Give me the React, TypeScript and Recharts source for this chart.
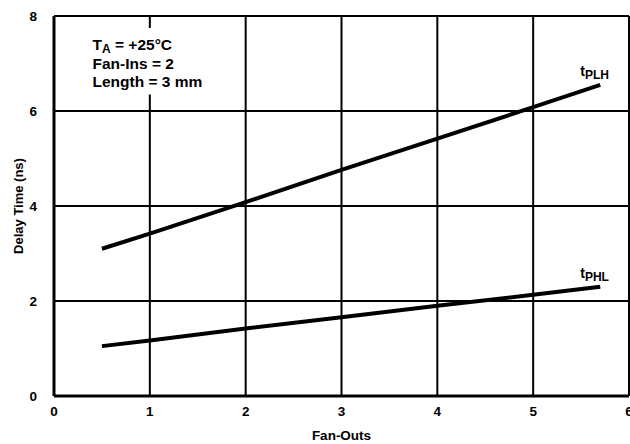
import {
  CartesianGrid,
  Label,
  Line,
  LineChart,
  ReferenceArea,
  XAxis,
  YAxis,
} from "recharts";

const fanOuts = [0.5, 1, 2, 3, 4, 5, 5.7];
const tPLH = [3.1, 3.42, 4.08, 4.76, 5.42, 6.08, 6.55];
const tPHL = [1.05, 1.17, 1.42, 1.66, 1.9, 2.13, 2.3];
const xTicks = [0, 1, 2, 3, 4, 5, 6];
const yTicks = [0, 2, 4, 6, 8];

const data = fanOuts.map((x, i) => ({ x, plh: tPLH[i], phl: tPHL[i] }));

const FONT = "'Liberation Sans', Arial, sans-serif";

// end-of-line label, e.g. t with subscript PLH
function endLabel(sub: string) {
  return (props: any) => {
    const { x, y, index } = props;
    if (index !== fanOuts.length - 1) return null;
    return (
      <text
        x={x - 20}
        y={y - 9}
        fontFamily={FONT}
        fontWeight="bold"
        fontSize={14}
        fill="#000"
      >
        t
        <tspan fontSize={12} dy={3}>
          {sub}
        </tspan>
      </text>
    );
  };
}

function Conditions(props: any) {
  const { x, y } = props.viewBox;
  const style = { fontFamily: FONT, fontWeight: "bold" as const, fontSize: 15.5, fill: "#000" };
  return (
    <g>
      <text x={x + 5} y={y + 22} {...style}>
        T
        <tspan fontSize={12} dy={3}>A</tspan>
        <tspan dy={-3}> = +25°C</tspan>
      </text>
      <text x={x + 5} y={y + 41} {...style}>
        Fan-Ins = 2
      </text>
      <text x={x + 5} y={y + 59} {...style}>
        Length = 3 mm
      </text>
    </g>
  );
}

export default function App() {
  const tick = { fontFamily: FONT, fontWeight: "bold", fontSize: 13.5, fill: "#000" };
  return (
    <div
      style={{
        position: "absolute",
        left: 0,
        top: 0,
        width: 630,
        height: 444,
        overflow: "hidden",
        background: "#fff",
      }}
    >
      <LineChart
        width={660}
        height={444}
        data={data}
        margin={{ top: 16, right: 31, bottom: 0, left: 0 }}
      >
        <CartesianGrid stroke="#000" strokeWidth={2} horizontalValues={yTicks} verticalValues={xTicks} />
        <ReferenceArea
          x1={0.35}
          x2={1.75}
          y1={6.35}
          y2={7.75}
          fill="#fff"
          fillOpacity={1}
          stroke="none"
          ifOverflow="visible"
        >
          <Label content={Conditions} />
        </ReferenceArea>
        <XAxis
          dataKey="x"
          type="number"
          domain={[0, 6]}
          ticks={xTicks}
          height={48}
          tick={tick}
          tickLine={false}
          tickMargin={4}
          axisLine={{ stroke: "#000", strokeWidth: 3 }}
          allowDataOverflow
        >
          <Label
            value="Fan-Outs"
            position="insideBottom"
            offset={4}
            style={{ fontFamily: FONT, fontWeight: "bold", fontSize: 13.5, fill: "#000" }}
          />
        </XAxis>
        <YAxis
          type="number"
          domain={[0, 8]}
          ticks={yTicks}
          width={54}
          tick={tick}
          tickLine={false}
          tickMargin={11}
          axisLine={{ stroke: "#000", strokeWidth: 3 }}
        >
          <Label
            value="Delay Time (ns)"
            angle={-90}
            position="insideLeft"
            offset={18}
            style={{ fontFamily: FONT, fontWeight: "bold", fontSize: 13, fill: "#000", textAnchor: "middle" }}
          />
        </YAxis>
        <Line
          dataKey="plh"
          stroke="#000"
          strokeWidth={4}
          dot={false}
          type="linear"
          isAnimationActive={false}
          label={endLabel("PLH")}
        />
        <Line
          dataKey="phl"
          stroke="#000"
          strokeWidth={4}
          dot={false}
          type="linear"
          isAnimationActive={false}
          label={endLabel("PHL")}
        />
      </LineChart>
    </div>
  );
}
